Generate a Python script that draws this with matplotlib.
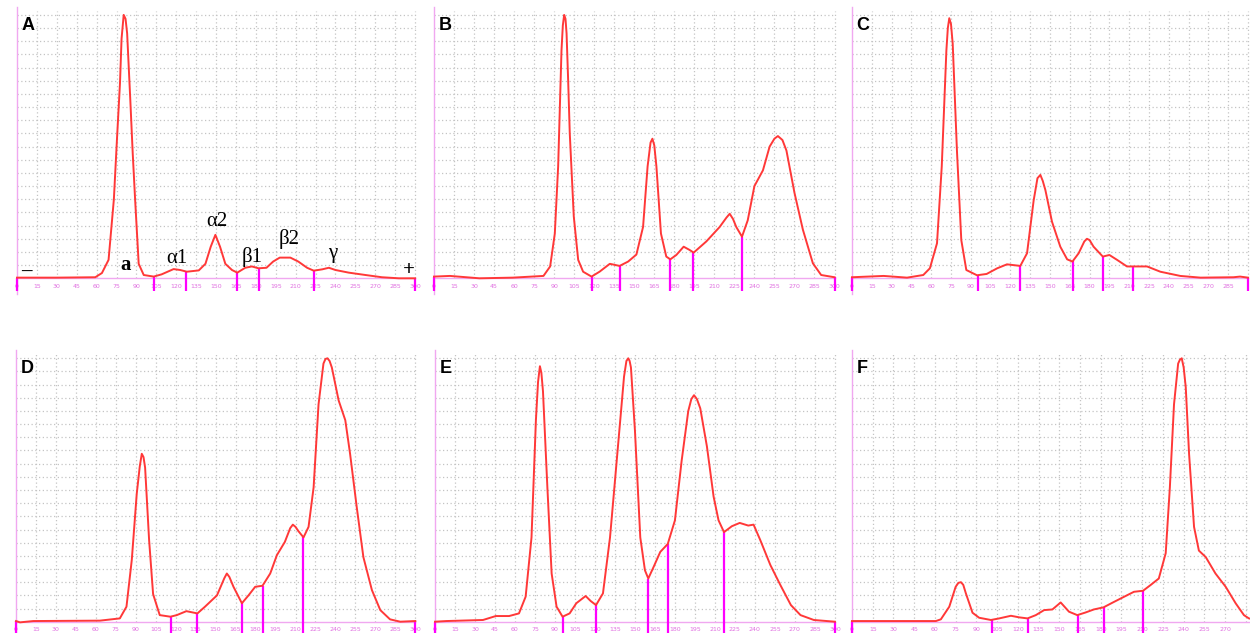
import numpy as np
import matplotlib
matplotlib.use('Agg')
from matplotlib import pyplot as plt

# curves: position (0-300) and height in grid units (0-20)
xA = [0, 30, 59, 64, 69, 73, 75.3, 77.6, 78.8, 80.4, 81.8, 83, 85.4, 87.2, 89, 91.7, 95.5, 103, 109, 118,
      123, 128, 137, 142, 146, 149.5, 153, 157, 162, 166, 172, 177, 182, 188, 193, 198, 206, 212, 218.6,
      223.6, 230, 235, 240, 250, 262.6, 275, 287.7, 300]
yA = [0.05, 0.05, 0.08, 0.4, 1.4, 6, 10.5, 14.8, 18.2, 20, 19.7, 18.6, 13.5, 9.5, 6, 1.1, 0.25, 0.13, 0.3, 0.7,
      0.63, 0.5, 0.6, 1.1, 2.4, 3.3, 2.4, 1.1, 0.63, 0.43, 0.8, 0.9, 0.76, 0.8, 1.27, 1.57, 1.57, 1.27, 0.8,
      0.58, 0.68, 0.8, 0.63, 0.43, 0.25, 0.08, 0, 0]

xB = [0, 12, 34, 59, 82, 87, 90.5, 93, 95.5, 96.5, 97.5, 98.5, 99.3, 100.5, 101.7, 104.7, 108, 111.7, 118,
      124, 131.7, 139, 145.4, 151.6, 156.6, 160, 162.2, 163.6, 165, 166.6, 170, 174, 177, 181.5, 187, 191.5,
      194.5, 204, 214, 219, 221.5, 224, 226.4, 230.7, 235, 240, 246.4, 251.4, 255, 257.6, 261, 264, 270,
      276.3, 283.8, 290, 300]
yB = [0.13, 0.18, 0, 0.05, 0.18, 0.9, 3.4, 8.5, 17.3, 19.2, 20, 19.7, 18.6, 15, 11, 4.7, 1.4, 0.5, 0.13,
      0.5, 1.1, 0.94, 1.27, 1.8, 3.9, 8.5, 10.3, 10.6, 10.1, 8.5, 3.4, 1.65, 1.44, 1.77, 2.4, 2.15,
      1.95, 2.8, 3.9, 4.6, 4.9, 4.5, 3.9, 3.16, 4.4, 7, 8.2, 10, 10.6, 10.8, 10.5, 9.7, 6.5,
      3.7, 1.14, 0.25, 0.08]

xC = [0, 24, 41.7, 54, 59, 64.4, 68, 71.5, 72.6, 73.7, 75, 76.3, 79.5, 82.8, 86.6, 94.7, 102, 110, 117.4,
      127.5, 132.6, 137.6, 140.5, 142.7, 144.5, 146.5, 151.5, 157.8, 163, 167, 171.7, 176, 178, 180, 183,
      190, 195, 200.8, 208.3, 212.9, 223.5, 233.6, 248.7, 264, 289, 294, 300]
yC = [0.08, 0.18, 0.05, 0.25, 0.76, 2.66, 8.5, 17.3, 19.0, 19.75, 19.3, 17.8, 9.7, 2.9, 0.63, 0.23, 0.33, 0.76, 1.06,
      0.94, 1.9, 5.9, 7.6, 7.85, 7.4, 6.7, 4.3, 2.4, 1.44, 1.27, 1.9, 2.8, 3.0, 2.9, 2.4,
      1.65, 1.77, 1.4, 0.9, 0.9, 0.9, 0.5, 0.18, 0.05, 0.08, 0.13, 0.05]

xD = [0, 3, 13, 63, 78, 83, 87, 90.7, 93, 94.5, 95.8, 97, 100, 103, 108, 116, 120.8, 128, 136.3, 142, 151,
      156.5, 158.4, 160.3, 163.4, 169.7, 174.7, 179.7, 185.2, 191, 196, 202, 206, 208, 210, 212, 216, 219.8,
      223.6, 227.3, 231, 232.5, 234, 235.6, 237.3, 242.4, 247.4, 251, 256, 261, 267.4, 273.7, 281, 288.7,
      300]
yD = [0.05, -0.05, 0.05, 0.08, 0.25, 1.14, 4.7, 9.7, 11.8, 12.75, 12.5, 11.7, 6.2, 2.1, 0.5, 0.38, 0.5, 0.8, 0.63,
      1.14, 2.0, 3.3, 3.66, 3.4, 2.65, 1.4, 2.0, 2.65, 2.73, 3.66, 5.05, 6.06, 7.1, 7.37, 7.2, 6.9, 6.4,
      7.2, 10.2, 16.5, 19.6, 19.95, 20, 19.8, 19.3, 16.8, 15.3, 12.75, 8.7, 4.9, 2.4, 0.88, 0.18, 0,
      0.05]

xE = [0, 8.5, 36, 45.6, 55.6, 63, 68, 72.4, 75.7, 77.3, 78.7, 79.8, 81, 84.3, 87.5, 91.2, 95.7, 101, 106, 113,
      116.8, 120.8, 126, 131.3, 136.3, 140, 141.8, 143.6, 145, 146, 147, 150, 154, 157.5, 160, 164, 169,
      174.6, 180, 185, 190, 192.3, 194.3, 196.5, 199, 204, 209, 212.7, 216.8, 222.7, 228.6, 235, 239, 244,
      251.6, 259, 267, 274.2, 284.2, 300]
yE = [0, 0.05, 0.13, 0.43, 0.43, 0.63, 1.9, 6.4, 15.3, 18.2, 19.4, 18.9, 17.5, 10.2, 3.66, 1.14, 0.38, 0.63, 1.4, 1.95,
      1.57, 1.26, 2.15, 6.4, 12.2, 16.5, 18.6, 19.8, 20, 19.8, 19.3, 14.5, 6.4, 3.9, 3.28, 4.16, 5.3,
      5.9, 7.7, 12.2, 16, 16.9, 17.2, 16.9, 16.2, 13.3, 9.5, 7.7, 6.8, 7.25, 7.5, 7.3, 7.37, 6.2,
      4.3, 2.8, 1.26, 0.5, 0.13, 0]

xF = [0, 60.7, 64.3, 70.4, 75, 77, 78.8, 80.5, 82.4, 87.2, 92, 100.5, 106.5, 115, 121, 127, 133, 139, 145,
      151, 157, 163, 169, 175, 182, 188.4, 197, 204, 210.6, 216, 222, 227, 230, 233, 236, 237.3, 238.6,
      240, 241.5, 243.9, 247.5, 251, 256, 263, 270.4, 277.6, 283.6, 287.2, 294, 300]
yF = [0.05, 0.05, 0.18, 1.14, 2.65, 2.95, 3.0, 2.8, 2.15, 0.68, 0.3, 0.13, 0.25, 0.45, 0.33, 0.25, 0.5, 0.88, 0.93,
      1.46, 0.76, 0.5, 0.7, 0.93, 1.09, 1.44, 1.9, 2.27, 2.35, 2.78, 3.28, 5.2, 10.2, 16.5, 19.6, 19.9, 20,
      19.3, 17.8, 12.75, 7.2, 5.4, 4.9, 3.66, 2.65, 1.4, 0.5, 0.25, 0.1, 0.05]

# fraction boundaries (magenta bars)
bA = [0, 103, 127.4, 166, 182, 223.6, 300]
bB = [0, 118, 139, 176.6, 194, 230.7, 300]
bC = [0, 95.2, 127.5, 167.2, 190, 212.9, 300]
bD = [0, 116.3, 136.3, 169.7, 185.2, 216, 300]
bE = [0, 95.7, 120.8, 160, 174.6, 216.8, 300]
bF = [0, 101.2, 127, 163.6, 182, 210.6, 300]

letters = ['A', 'B', 'C', 'D', 'E', 'F']
tick_pos = list(range(0, 301, 15))
tick_lab = [str(t) for t in tick_pos]

# labels on panel A
annA = ['–', 'a', 'α1', 'α2', 'β1', 'β2', 'γ', '+']
annA_x = [7.3, 82, 120.8, 150.5, 177, 205, 238, 295]
annA_y = [0.45, 1.0, 1.5, 4.3, 1.65, 3.0, 1.9, 0.6]

W, H = 1250, 633
fig = plt.figure(figsize=(W / 100, H / 100), dpi=100)

curves = [(xA, yA, bA), (xB, yB, bB), (xC, yC, bC), (xD, yD, bD), (xE, yE, bE), (xF, yF, bF)]
# pixel origin of each panel: x of position 0, y of baseline, px per unit in x
org = [(17, 278.3, 1.327), (434, 278.3, 1.335), (852, 278.3, 1.32),
       (16, 621.7, 1.331), (435, 621.7, 1.333), (852, 621.7, 1.382)]
vy = 13.17
xl = (-3, 303)
yl = (-1.6, 20.8)

red = '#ff3838'
mag = '#ff00ff'
pink = '#f0a8f0'

for i, (xs, ys, bs) in enumerate(curves):
    x0, y0, sx = org[i]
    left = x0 + xl[0] * sx
    width = (xl[1] - xl[0]) * sx
    top = y0 - yl[1] * vy
    height = (yl[1] - yl[0]) * vy
    ax = fig.add_axes([left / W, 1 - (top + height) / H, width / W, height / H])
    ax.set_xlim(*xl)
    ax.set_ylim(*yl)
    ax.axis('off')

    # dotted grid
    for gx in range(15, 301, 15):
        ax.plot([gx, gx], [0, 20.3], color='#c4c4c4', lw=0.9, ls=(0, (1, 2)), zorder=1)
    for gy in range(1, 21):
        ax.plot([0, 300], [gy, gy], color='#c4c4c4', lw=0.9, ls=(0, (1, 2)), zorder=1)

    ax.plot([0, 0], [-1.2, 20.6], color=pink, lw=1.0, zorder=2)
    ax.plot([0, 300], [0, 0], color=pink, lw=1.0, zorder=2)

    for t, lab in zip(tick_pos, tick_lab):
        if x0 + t * sx > W - 8:
            continue
        ax.text(t, -0.6, lab, color='#e070e0', fontsize=4.5, ha='center', va='center', zorder=2)

    ax.plot(xs, ys, color=red, lw=1.4, zorder=4, solid_joinstyle='round')

    for b in bs:
        top_b = np.interp(b, xs, ys)
        ax.plot([b, b], [-1.0, top_b], color=mag, lw=1.6, zorder=3, solid_capstyle='butt')

    ax.text(3.5, 19.2, letters[i], fontsize=13, fontweight='bold', family='Liberation Sans',
            ha='left', va='center', zorder=5)

    if i == 0:
        for s, tx, ty in zip(annA, annA_x, annA_y):
            ax.text(tx, ty, s, fontsize=15, family='Liberation Serif',
                    fontweight='bold' if s in ('a', '–', '+') else 'normal',
                    ha='center', va='center', zorder=5)

fig.savefig('out.png', dpi=100)
